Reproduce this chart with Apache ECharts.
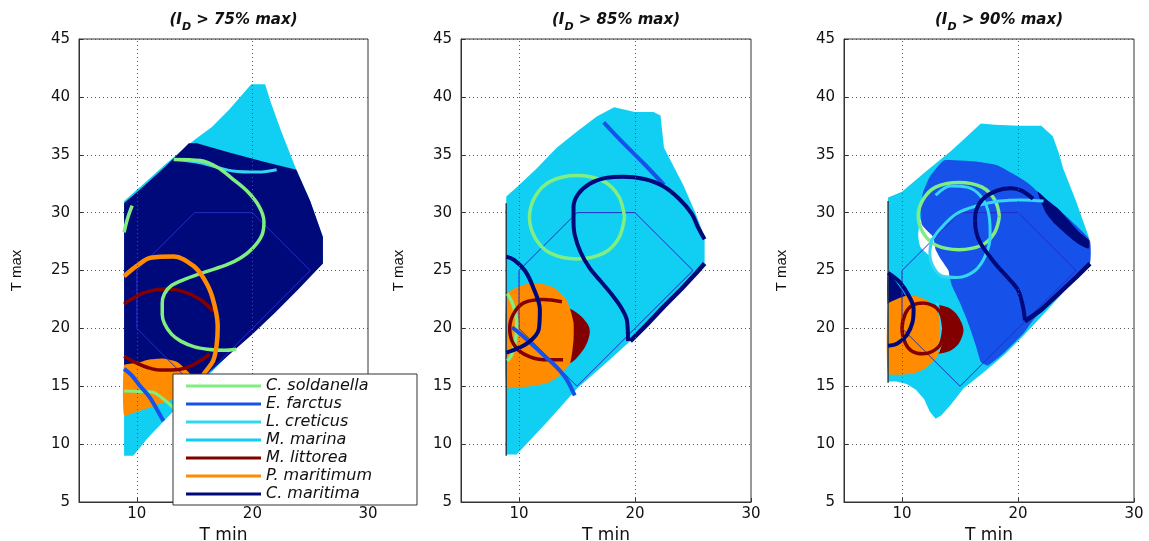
<!DOCTYPE html>
<html><head><meta charset="utf-8">
<script src="https://cdn.jsdelivr.net/npm/echarts@6/dist/echarts.min.js"></script>
<style>html,body{margin:0;padding:0;background:#fff}#c{width:1149px;height:541px}</style>
</head><body><div id="c"></div>
<script>
// ---------- DATA ----------
const species = ['C. soldanella','E. farctus','L. creticus','M. marina','M. littorea','P. maritimum','C. maritima'];
const thresholds = ['75%','85%','90%'];
const xTickValues = [10,20,30];
const xGridValues = [10,20];
const yRange = [5,45];
const xRange = [5,30];
const hexagon = [[10,20],[10,25],[15,30],[20,30],[25,25],[15,15],[10,20]];

// Panel 1 (I_D > 75% max)
const p1_marinaRegion = [[8.9,9.0],[8.9,31.0],[10.5,32.4],[12.5,34.2],[15.0,36.3],[16.5,37.4],[18.0,38.9],[19.9,41.1],[21.1,41.1],[21.6,39.5],[22.5,37.0],[23.8,33.7],[25.0,31.0],[26.1,27.9],[26.1,25.6],[24.0,23.5],[22.0,21.6],[20.0,19.8],[18.0,17.8],[14.0,13.7],[11.0,10.6],[9.7,9.0]];
const p1_maritimaRegion = [[8.9,16.7],[8.9,30.8],[10.5,32.2],[12.5,34.0],[14.5,36.0],[15.2,36.0],[18.0,35.2],[21.0,34.4],[23.8,33.7],[25.0,31.0],[26.1,27.9],[26.1,25.6],[24.0,23.4],[22.0,21.4],[20.0,19.5],[18.3,18.0],[16.5,16.4],[15.0,15.3],[14.0,15.0],[12.5,15.5]];
const p1_maritimumRegion = [[8.9,12.5],[8.9,16.8],[10.0,17.0],[11.0,17.3],[12.3,17.4],[13.5,17.1],[14.5,16.2],[15.0,15.3],[14.8,14.5],[13.2,13.9],[11.5,13.3],[10.0,12.8]];
const p1_soldanella = [[13.2,34.6],[15.5,34.5],[17.0,33.9],[18.3,32.9],[19.6,31.8],[20.6,30.5],[21.0,29.2],[20.8,28.0],[20.0,26.9],[19.0,26.1],[17.8,25.5],[16.0,24.9],[14.3,24.3],[13.0,23.7],[12.4,23.0],[12.2,22.2],[12.2,21.2],[12.4,20.4],[13.0,19.5],[13.8,18.9],[15.0,18.4],[16.1,18.2],[17.5,18.1],[18.6,18.2]];
const p1_soldanellaTop = [[8.9,28.3],[9.2,29.5],[9.6,30.6]];
const p1_soldanellaLow = [[8.9,14.6],[10.2,14.55],[11.3,14.5],[12.3,13.9],[13.2,13.1]];
const p1_creticus = [[13.2,34.6],[15.5,34.3],[18.3,33.6],[20.5,33.5],[22.1,33.7]];
const p1_littoreaTop = [[8.9,22.1],[10.0,22.8],[11.0,23.2],[12.5,23.4],[14.0,23.2],[15.5,22.5],[16.6,21.5]];
const p1_littoreaLow = [[8.9,17.6],[10.0,17.0],[11.0,16.6],[12.0,16.4],[13.0,16.4],[14.3,16.6],[15.5,17.2],[16.3,17.8]];
const p1_maritimum = [[8.9,24.5],[10.0,25.4],[11.2,26.1],[13.2,26.2],[14.9,25.4],[15.8,24.3],[16.5,22.8],[17.0,20.2],[16.9,18.5],[16.6,17.2],[15.9,16.2],[15.4,15.4]];
const p1_farctus = [[8.9,16.5],[9.6,15.9],[10.3,15.0],[11.0,14.2],[11.4,13.6],[12.3,12.0]];

// Panel 2 (I_D > 85% max)
const p2_marinaRegion = [[8.9,9.1],[8.9,31.4],[9.8,32.2],[11.5,33.8],[13.25,35.6],[15.0,37.0],[16.7,38.3],[18.2,39.1],[20.0,38.7],[21.6,38.7],[22.2,38.4],[22.5,35.6],[24.2,32.3],[25.2,30.0],[26.0,27.9],[26.0,25.6],[24.0,23.6],[22.0,21.4],[19.6,18.9],[17.5,17.0],[15.0,14.8],[12.5,12.0],[9.8,9.1]];
const p2_littoreaRegion = [[11.0,19.8],[11.5,21.5],[12.8,22.1],[14.4,21.7],[15.4,21.0],[16.0,20.2],[16.1,19.6],[15.8,18.6],[15.2,17.7],[14.4,17.0],[12.8,16.9],[11.5,17.8]];
const p2_maritimumRegion = [[8.9,14.9],[8.9,22.9],[9.5,23.4],[10.5,23.8],[11.8,23.9],[13.0,23.5],[14.0,22.6],[14.4,21.7],[14.7,20.5],[14.7,19.0],[14.4,17.0],[13.5,15.9],[12.5,15.3],[11.0,15.0],[9.8,14.9]];
const p2_edge = [[8.9,9.0],[8.9,30.8]];
const p2_soldanellaRing = [[19.1,29.6],[18.6,31.4],[17.3,32.7],[15.0,33.2],[12.7,32.7],[11.4,31.4],[10.9,29.6],[11.4,27.8],[12.7,26.5],[15.0,26.0],[17.3,26.5],[18.6,27.8],[19.1,29.6]];
const p2_soldanellaArc = [[9.0,23.0],[9.5,22.0],[9.8,20.5],[9.7,19.0],[9.4,17.8],[9.0,17.2]];
const p2_littoreaRing = [[13.7,22.3],[12.1,22.5],[10.4,22.2],[9.5,21.2],[9.2,20.0],[9.5,18.7],[10.4,17.8],[12.1,17.3],[13.8,17.3]];
const p2_farctusLow = [[9.4,20.1],[10.5,19.2],[12.0,17.8],[13.2,16.7],[14.1,15.6],[14.8,14.2]];
const p2_farctusHigh = [[17.3,37.8],[19.0,36.0],[20.8,34.2],[22.5,32.4]];
const p2_maritimaLoop = [[26.0,27.7],[25.4,28.8],[24.9,29.9],[23.8,31.2],[22.4,32.3],[20.8,32.9],[19.0,33.1],[17.5,33.0],[16.1,32.5],[15.1,31.6],[14.7,30.5],[14.7,29.3],[14.8,28.1],[15.3,26.6],[16.1,25.2],[17.1,24.0],[18.1,22.8],[18.8,21.8],[19.3,20.7],[19.4,18.9]];
const p2_maritimaEdge = [[19.6,18.9],[21.0,20.3],[22.5,21.9],[24.0,23.4],[25.3,24.8],[26.0,25.6]];
const p2_maritimaLeft = [[8.9,26.2],[9.6,25.9],[10.5,25.0],[11.2,23.6],[11.8,21.6],[11.7,19.9],[10.7,18.7],[9.2,18.0],[8.9,17.9]];

// Panel 3 (I_D > 90% max)
const p3_marinaRegion = [[8.8,15.4],[8.8,31.3],[10.0,31.8],[12.0,33.5],[14.2,35.3],[15.5,36.5],[16.8,37.7],[18.0,37.6],[20.0,37.5],[22.0,37.5],[23.0,36.6],[23.5,35.2],[23.9,33.8],[25.0,31.0],[26.1,27.9],[26.2,25.6],[24.0,23.2],[22.0,21.0],[20.5,19.4],[18.8,17.7],[17.1,16.25],[15.3,14.8],[14.2,13.4],[13.4,12.5],[12.9,12.2],[12.4,12.8],[11.9,13.9],[11.2,14.7],[10.4,15.2],[9.5,15.4]];
const p3_hole = [[11.6,29.4],[12.1,29.3],[12.6,28.4],[12.8,27.3],[13.3,26.3],[14.0,25.2],[14.1,24.4],[13.5,24.4],[12.9,25.0],[12.4,26.2],[11.6,27.0],[11.4,28.0]];
const p3_farctusRegion = [[13.6,34.5],[12.4,33.1],[11.8,31.7],[11.6,30.2],[11.7,29.0],[12.3,28.3],[12.7,27.9],[12.9,26.8],[13.4,25.9],[14.0,25.0],[14.1,24.5],[14.3,23.7],[15.0,22.2],[15.5,21.0],[15.9,19.9],[16.4,18.4],[16.8,17.1],[17.4,16.8],[18.8,17.9],[20.5,19.6],[21.3,20.7],[23.0,22.4],[24.5,24.0],[26.2,25.6],[26.2,27.6],[25.0,28.9],[23.5,30.3],[21.7,31.8],[20.8,32.6],[19.5,33.4],[18.2,34.1],[16.5,34.4],[15.0,34.5]];
const p3_maritimaWedge = [[21.7,31.8],[22.6,31.0],[23.5,30.3],[24.5,29.2],[25.3,28.3],[26.1,27.6],[26.1,26.9],[25.2,27.3],[24.3,28.0],[23.3,28.9],[22.4,30.0]];
const p3_maritimaCorner = [[8.8,24.8],[9.5,24.0],[10.2,23.0],[10.7,22.2],[10.0,22.3],[9.3,22.1],[8.8,22.0]];
const p3_littoreaRegion = [[10.3,19.9],[10.7,21.1],[11.6,21.8],[12.8,22.05],[14.0,21.8],[14.8,21.1],[15.3,19.9],[14.9,18.7],[14.0,18.0],[12.8,17.8],[11.6,18.0],[10.7,18.7]];
const p3_maritimumRegion = [[8.8,16.1],[8.8,22.1],[9.5,22.5],[10.3,22.8],[11.2,22.8],[12.2,22.4],[13.0,21.5],[13.5,20.2],[13.5,18.8],[13.0,17.5],[12.1,16.6],[11.0,16.1],[9.8,16.0]];
const p3_edge = [[8.8,15.3],[8.8,31.0]];
const p3_soldanellaRing = [[18.4,29.7],[18.0,31.1],[16.9,32.2],[14.9,32.6],[12.9,32.2],[11.8,31.1],[11.4,29.7],[11.8,28.3],[12.9,27.2],[14.9,26.8],[16.9,27.2],[18.0,28.3],[18.4,29.7]];
const p3_creticusRing = [[12.9,31.5],[14.2,32.3],[15.6,32.2],[16.8,31.4],[17.5,29.8],[17.6,28.0],[17.2,26.3],[16.3,25.0],[14.8,24.4],[13.5,24.5],[12.7,25.3],[12.4,26.5],[12.6,27.8]];
const p3_creticusLong = [[12.5,27.5],[13.3,28.6],[14.7,29.9],[16.5,30.6],[18.4,31.0],[20.3,31.1],[22.2,31.0]];
const p3_creticusShort = [[13.0,22.2],[13.3,21.0],[13.4,19.8],[13.3,18.8],[13.1,18.0]];
const p3_littoreaRing = [[13.6,20.0],[13.3,21.4],[12.6,22.0],[11.8,22.2],[10.9,22.0],[10.3,21.3],[10.0,20.0],[10.3,18.7],[10.9,18.0],[11.8,17.8],[12.6,18.0],[13.3,18.6],[13.6,20.0]];
const p3_maritimaLoop = [[21.3,31.2],[20.3,31.9],[19.4,32.1],[18.2,31.9],[17.0,31.2],[16.4,30.2],[16.3,29.3],[16.4,28.3],[16.8,27.3],[17.5,26.3],[18.2,25.4],[19.2,24.3],[20.0,23.3],[20.4,22.0],[20.6,20.7]];
const p3_maritimaEdge = [[20.6,20.6],[22.0,21.6],[23.5,23.0],[25.0,24.4],[26.2,25.6]];
const p3_maritimaLeft = [[8.8,24.8],[9.8,24.0],[10.6,22.8],[11.0,21.7],[10.9,20.5],[10.4,19.4],[9.6,18.7],[8.8,18.5]];

// ---------- STYLE ----------
const C = {
  'C. soldanella':'#80ee80', 'E. farctus':'#1652ea', 'L. creticus':'#35d6f2',
  'M. marina':'#10cff2', 'M. littorea':'#820000', 'P. maritimum':'#ff8c00', 'C. maritima':'#00097a'
};
const grids = [
  {left:79, top:39, width:289, height:463},
  {left:461, top:39, width:290, height:463},
  {left:844, top:39, width:290, height:463}
];
const FONT = 'DejaVu Sans';

function region(p, name, pts, color, smooth){
  return {type:'custom', name, xAxisIndex:p, yAxisIndex:p, data:pts, z:2, silent:true, clip:true,
    itemStyle:{color},
    renderItem(params, api){
      if (params.dataIndex !== 0) return;
      return {type:'polygon', shape:{points: pts.map(q => api.coord(q)), smooth: smooth || 0}, style:{fill:color}};
    }};
}
function curve(p, name, pts, color, width, smooth, z){
  return {type:'line', name, xAxisIndex:p, yAxisIndex:p, data:pts, symbol:'none', showSymbol:false,
    smooth: smooth === undefined ? 0.35 : smooth, lineStyle:{color, width}, itemStyle:{color},
    z: z || 4, silent:true, clip:true};
}

const series = [];
for (let p = 0; p < 3; p++) {
  series.push({type:'line', xAxisIndex:p, yAxisIndex:p, data:[], z:1, silent:true,
    markLine:{symbol:'none', silent:true, label:{show:false}, animation:false,
      lineStyle:{type:[1,3], color:'#555', width:1},
      data: xGridValues.map(v => ({xAxis:v}))}});
}
// Panel 1
series.push(region(0,'M. marina',p1_marinaRegion,C['M. marina']));
series.push(region(0,'C. maritima',p1_maritimaRegion,C['C. maritima']));
series.push(region(0,'P. maritimum',p1_maritimumRegion,C['P. maritimum'],0.15));
series.push(curve(0,'',hexagon,'#2a2ac4',1,0,3));
series.push(curve(0,'L. creticus',p1_creticus,C['L. creticus'],3));
series.push(curve(0,'M. littorea',p1_littoreaTop,C['M. littorea'],3.5));
series.push(curve(0,'M. littorea',p1_littoreaLow,C['M. littorea'],3.5));
series.push(curve(0,'C. soldanella',p1_soldanella,C['C. soldanella'],3.5));
series.push(curve(0,'C. soldanella',p1_soldanellaTop,C['C. soldanella'],3.5));
series.push(curve(0,'C. soldanella',p1_soldanellaLow,C['C. soldanella'],3));
series.push(curve(0,'P. maritimum',p1_maritimum,C['P. maritimum'],4.5));
series.push(curve(0,'E. farctus',p1_farctus,C['E. farctus'],4));
// Panel 2
series.push(region(1,'M. marina',p2_marinaRegion,C['M. marina']));
series.push(region(1,'M. littorea',p2_littoreaRegion,C['M. littorea'],0.3));
series.push(region(1,'P. maritimum',p2_maritimumRegion,C['P. maritimum'],0.2));
series.push(curve(1,'',p2_edge,'#24404c',1.5,0,3));
series.push(curve(1,'',hexagon,'#2a2ac4',1,0,3));
series.push(curve(1,'C. soldanella',p2_soldanellaRing,C['C. soldanella'],3.5));
series.push(curve(1,'C. soldanella',p2_soldanellaArc,C['C. soldanella'],3.5));
series.push(curve(1,'M. littorea',p2_littoreaRing,C['M. littorea'],3.5));
series.push(curve(1,'E. farctus',p2_farctusLow,C['E. farctus'],4));
series.push(curve(1,'E. farctus',p2_farctusHigh,C['E. farctus'],4));
series.push(curve(1,'C. maritima',p2_maritimaLoop,C['C. maritima'],4));
series.push(curve(1,'C. maritima',p2_maritimaEdge,C['C. maritima'],4.5,0));
series.push(curve(1,'C. maritima',p2_maritimaLeft,C['C. maritima'],4));
// Panel 3
series.push(region(2,'M. marina',p3_marinaRegion,C['M. marina']));
series.push(region(2,'',p3_hole,'#ffffff',0.2));
series.push(region(2,'E. farctus',p3_farctusRegion,C['E. farctus'],0.15));
series.push(region(2,'C. maritima',p3_maritimaWedge,C['C. maritima'],0.2));
series.push(region(2,'C. maritima',p3_maritimaCorner,C['C. maritima'],0.2));
series.push(region(2,'M. littorea',p3_littoreaRegion,C['M. littorea'],0.3));
series.push(region(2,'P. maritimum',p3_maritimumRegion,C['P. maritimum'],0.2));
series.push(curve(2,'',p3_edge,'#24404c',1.5,0,3));
series.push(curve(2,'',hexagon,'#2a2ac4',1,0,3));
series.push(curve(2,'C. soldanella',p3_soldanellaRing,C['C. soldanella'],3.5));
series.push(curve(2,'L. creticus',p3_creticusRing,C['L. creticus'],3));
series.push(curve(2,'L. creticus',p3_creticusLong,C['L. creticus'],3));
series.push(curve(2,'L. creticus',p3_creticusShort,C['L. creticus'],3));
series.push(curve(2,'M. littorea',p3_littoreaRing,C['M. littorea'],3.5));
series.push(curve(2,'C. maritima',p3_maritimaLoop,C['C. maritima'],4));
series.push(curve(2,'C. maritima',p3_maritimaEdge,C['C. maritima'],4.5,0));
series.push(curve(2,'C. maritima',p3_maritimaLeft,C['C. maritima'],4));

const titleRich = {
  p:{fontFamily:FONT, fontSize:15, fontWeight:'bold', fontStyle:'italic', color:'#111', lineHeight:20, verticalAlign:'top'},
  s:{fontFamily:FONT, fontSize:11, fontWeight:'bold', fontStyle:'italic', color:'#111', lineHeight:12, padding:[9,0,0,0], verticalAlign:'top'}
};

const option = {
  animation:false,
  backgroundColor:'#ffffff',
  title: thresholds.map((t,i) => ({
    text:'{p|(I}{s|D}{p| > ' + t + ' max)}',
    left: grids[i].left + grids[i].width/2 + 5, top: 8, textAlign:'center',
    textStyle:{rich:titleRich}
  })),
  grid: grids.map(g => Object.assign({show:true, borderColor:'#333', borderWidth:1, backgroundColor:'#fff',
    containLabel:false, outerBoundsMode:'none'}, g)),
  xAxis: grids.map((g,i) => ({
    gridIndex:i, type:'value', min:xRange[0], max:xRange[1], interval:5,
    name:'T min', nameLocation:'middle', nameGap:20,
    nameTextStyle:{fontFamily:FONT, fontSize:17, color:'#111'},
    axisLine:{show:true, onZero:false, lineStyle:{color:'#333'}},
    axisTick:{show:true, inside:true, length:4, customValues:xTickValues, lineStyle:{color:'#333'}},
    axisLabel:{fontFamily:FONT, fontSize:15, color:'#111', margin:5, customValues:xTickValues,
      formatter: v => (xTickValues.indexOf(v) >= 0 ? String(v) : '')},
    splitLine:{show:false}
  })),
  yAxis: grids.map((g,i) => ({
    gridIndex:i, type:'value', min:yRange[0], max:yRange[1], interval:5,
    name:'T max', nameLocation:'middle', nameGap:55, nameRotate:90,
    nameTextStyle:{fontFamily:'Liberation Sans', fontSize:15, color:'#111'},
    axisLine:{show:true, onZero:false, lineStyle:{color:'#333'}},
    axisTick:{show:true, inside:true, length:4, lineStyle:{color:'#333'}},
    axisLabel:{fontFamily:FONT, fontSize:15, color:'#111', margin:9},
    splitLine:{show:true, lineStyle:{type:[1,3], color:'#555', width:1}}
  })),
  legend:{
    orient:'vertical', left:173, top:374, selectedMode:false,
    backgroundColor:'#ffffff', borderColor:'#333', borderWidth:1,
    padding:[3,6,2,13], itemGap:0, itemWidth:75, itemHeight:3, icon:'rect', z:20,
    textStyle:{fontFamily:FONT, fontStyle:'italic', fontSize:16, color:'#111', lineHeight:18, width:145},
    data: species.map(s => ({name:s, icon:'rect', itemStyle:{color:C[s]}}))
  },
  series
};
const chart = echarts.init(document.getElementById('c'), null, {renderer:'canvas'});
chart.setOption(option);
</script>
</body></html>
